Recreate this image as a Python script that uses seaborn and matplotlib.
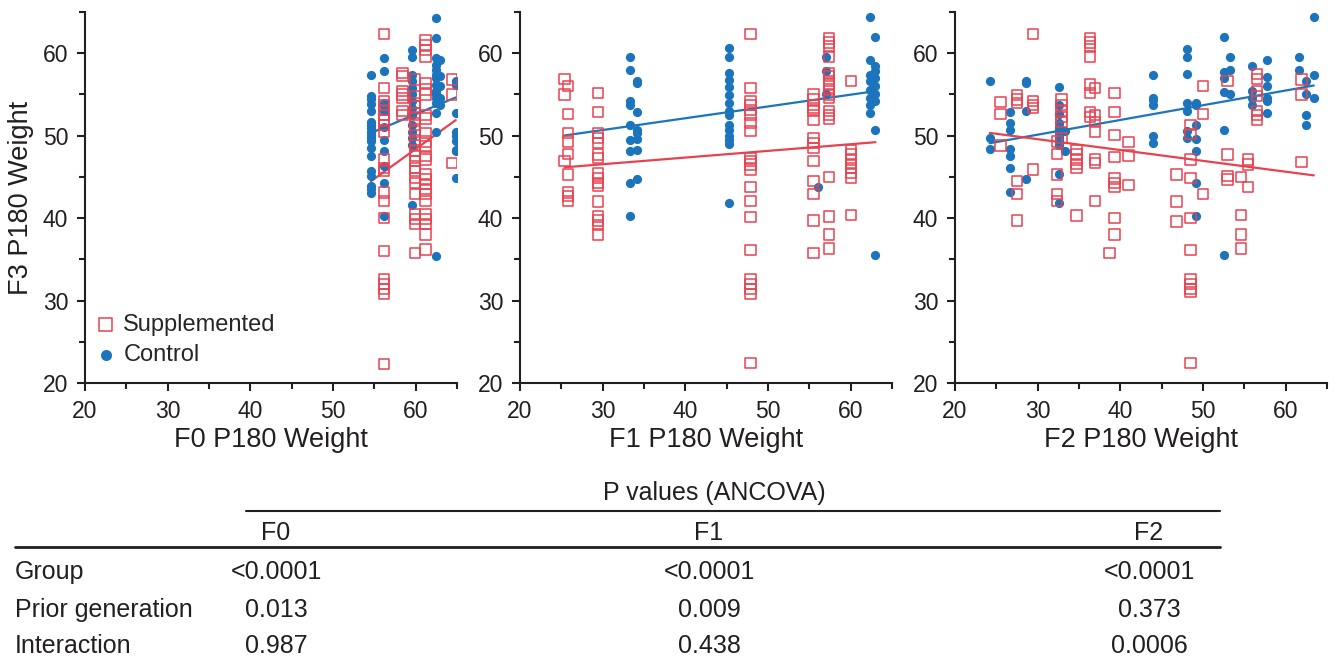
import pandas as pd
import matplotlib
matplotlib.use("Agg")
import matplotlib.pyplot as plt
from matplotlib.lines import Line2D
from matplotlib.ticker import MultipleLocator
import seaborn as sns

# ------------------------------------------------------------------
# Data: F3 P180 weight, grouped by the prior-generation weight column
# {prior-generation P180 weight: [F3 P180 weights]}
# ------------------------------------------------------------------
f0_control = {
    54.6: [57.3, 54.8, 54.4, 53.8, 53.0, 51.7, 51.3, 50.9, 50.5, 50.1, 49.7,
           49.3, 48.5, 47.5, 45.7, 45.1, 43.9, 43.5, 43.1],
    56.2: [59.4, 57.9, 54.0, 53.6, 53.0, 51.1, 49.5, 48.1, 46.3, 44.3, 40.2],
    59.5: [60.4, 59.5, 57.4, 56.6, 55.8, 55.0, 54.2, 53.3, 52.5, 51.3, 50.5,
           49.7, 48.9, 41.65],
    62.4: [64.3, 61.8, 59.4, 58.6, 58.0, 57.4, 57.0, 56.2, 55.4, 55.0, 54.6,
           54.0, 52.75, 50.5, 35.4],
    63.0: [59.2, 57.2, 56.0, 54.6, 53.75],
    64.85: [56.6, 56.2, 52.75, 50.5, 49.9, 49.3, 48.3, 48.1, 44.9],
}
f0_supp = {
    56.2: [62.3, 55.8, 54.2, 53.75, 53.1, 52.5, 51.9, 51.3, 50.5, 47.1, 46.1,
           45.7, 43.1, 42.05, 40.05, 36.0, 32.6, 32.0, 31.4, 30.8, 22.3],
    58.4: [57.6, 57.2, 55.4, 55.0, 54.6, 53.0, 52.5],
    59.9: [56.8, 54.8, 54.0, 53.55, 52.75, 52.1, 51.3, 50.5, 49.5, 48.9, 48.1,
           47.5, 46.9, 46.1, 45.7, 44.9, 44.3, 42.9, 40.45, 39.85, 39.25, 35.8],
    61.2: [61.6, 61.0, 60.4, 59.6, 56.4, 55.6, 55.0, 52.5, 52.1, 50.3, 49.3,
           48.7, 47.5, 47.1, 45.3, 44.7, 44.1, 43.5, 42.9, 42.05, 40.45, 39.85,
           39.25, 38.0, 36.2],
    64.4: [56.8, 55.0, 46.7],
}
f1_control = {
    33.3: [59.5, 58.0, 54.2, 53.75, 51.25, 49.5, 48.2, 44.3, 40.2],
    34.1: [56.65, 56.4, 52.9, 50.7, 50.3, 49.6, 48.3, 44.8],
    45.3: [60.6, 59.6, 57.6, 56.8, 55.9, 54.9, 54.0, 53.0, 52.5, 51.3, 50.7,
           49.9, 49.5, 49.0, 41.85],
    56.1: [43.75],
    57.0: [59.5, 57.9, 55.0],
    62.3: [64.4, 59.2, 57.3, 56.6, 55.5, 54.6, 53.75, 52.75],
    63.0: [62.0, 58.5, 57.8, 57.05, 56.0, 55.05, 54.15, 50.7, 35.5],
}
f1_supp = {
    25.4: [56.9, 55.0, 46.9],
    25.8: [56.0, 52.6, 50.3, 49.3, 47.8, 45.3, 43.1, 42.7, 42.05],
    29.4: [55.2, 52.9, 50.3, 49.7, 49.1, 47.7, 47.3, 45.4, 44.9, 44.3, 43.9,
           42.0, 40.2, 39.7, 39.2, 38.0],
    47.9: [62.3, 55.8, 54.15, 53.75, 53.1, 52.5, 51.5, 50.6, 47.3, 46.9, 46.5,
           45.9, 43.75, 42.05, 40.1, 36.1, 32.6, 32.0, 31.4, 30.8, 22.4],
    55.5: [55.0, 54.4, 53.75, 53.35, 52.95, 51.9, 49.7, 49.1, 48.5, 46.9, 44.5,
           42.9, 39.7, 35.8],
    57.4: [61.8, 61.3, 60.8, 59.6, 57.6, 57.2, 56.6, 56.2, 55.6, 55.0, 54.6,
           53.0, 52.5, 52.1, 45.0, 40.2, 38.0, 36.3],
    60.0: [56.65, 48.3, 47.7, 47.1, 46.6, 46.1, 45.5, 44.9, 40.4],
}
f2_control = {
    24.2: [56.6, 49.7, 48.4],
    26.6: [52.9, 51.5, 50.65, 48.4, 47.5, 46.1, 43.2],
    28.6: [56.6, 56.4, 52.95, 44.8],
    32.6: [55.85, 53.7, 52.6, 51.5, 51.1, 50.7, 50.3, 50.0, 49.7, 49.3, 48.9,
           45.3, 41.8],
    33.3: [50.6, 48.2],
    43.9: [57.4, 54.6, 54.35, 53.75, 50.0, 49.1],
    48.1: [60.5, 59.6, 57.5, 54.0, 52.95, 50.6, 49.7],
    49.1: [54.0, 53.75, 51.25, 49.6, 48.2, 44.3, 40.2],
    52.6: [62.0, 57.7, 57.0, 55.3, 50.7, 35.5],
    53.3: [59.5, 58.0, 55.0],
    55.9: [58.5, 55.45, 54.6, 53.7],
    57.7: [59.2, 57.1, 56.0, 54.6, 54.2, 52.75],
    61.6: [59.5, 58.0],
    62.5: [56.65, 55.0, 52.5, 51.3],
    63.4: [64.4, 57.4, 54.6],
}
f2_supp = {
    25.5: [54.1, 52.6, 48.8],
    27.5: [54.9, 54.4, 54.0, 44.5, 42.9, 39.7],
    29.4: [62.3, 54.2, 53.75, 53.35, 45.9],
    32.3: [49.3, 47.8, 45.3, 42.9, 42.05],
    32.9: [54.4, 53.75, 53.0, 52.3, 51.7, 49.7],
    34.7: [48.3, 47.7, 47.1, 46.6, 46.1, 40.3],
    36.3: [61.8, 61.3, 60.8, 59.6, 56.2, 55.2, 52.9, 52.3],
    36.9: [55.8, 52.5, 51.7, 50.5, 47.1, 46.7, 42.05],
    38.7: [35.8],
    39.3: [55.2, 52.9, 50.1, 47.4, 44.8, 44.3, 43.75, 40.0, 38.0],
    41.0: [49.2, 47.6, 44.0],
    46.8: [45.3, 42.0, 39.6],
    48.5: [51.3, 50.2, 47.1, 44.9, 40.0, 36.1, 32.6, 32.0, 31.4, 31.0, 22.4],
    50.0: [56.0, 52.6, 42.95],
    52.95: [56.65, 47.7, 45.1, 44.7],
    54.6: [45.0, 40.4, 38.0, 36.3],
    55.45: [47.1, 46.5, 43.75],
    56.5: [57.5, 56.9, 55.45, 54.8, 52.95, 52.5, 51.9],
    61.9: [56.8, 55.0, 46.8],
}

generations = ["F0", "F1", "F2"]
row_labels = ["Group", "Prior generation", "Interaction"]
p_f0 = ["<0.0001", "0.013", "0.987"]
p_f1 = ["<0.0001", "0.009", "0.438"]
p_f2 = ["<0.0001", "0.373", "0.0006"]

records = []
for gen, group, cols in [("F0", "Control", f0_control), ("F0", "Supplemented", f0_supp),
                         ("F1", "Control", f1_control), ("F1", "Supplemented", f1_supp),
                         ("F2", "Control", f2_control), ("F2", "Supplemented", f2_supp)]:
    for x, ys in cols.items():
        for y in ys:
            records.append((gen, group, x, y))
df = pd.DataFrame(records, columns=["gen", "group", "prior", "f3"])

# ------------------------------------------------------------------
# Figure
# ------------------------------------------------------------------
sns.set_theme(style="ticks")
plt.rcParams["font.family"] = ["Liberation Sans", "DejaVu Sans"]
INK = "#231f20"
RED = "#E8424F"
BLUE = "#1C75BC"
W, H = 1338, 662

fig = plt.figure(figsize=(W / 100, H / 100), dpi=100)
lefts = [85, 520, 955]
for i, gen in enumerate(generations):
    ax = fig.add_axes([lefts[i] / W, 1 - 383 / H, 372 / W, 371 / H])
    sub = df[df["gen"] == gen]
    # regression lines span the whole range of prior-generation weights
    ax.set_xlim(sub["prior"].min(), sub["prior"].max())
    sns.regplot(data=sub[sub["group"] == "Control"], x="prior", y="f3", ax=ax,
                ci=None, truncate=False, color=BLUE, marker="o", label="Control",
                scatter_kws=dict(s=44, linewidths=0, alpha=1, zorder=3),
                line_kws=dict(lw=1.6, zorder=2))
    sns.regplot(data=sub[sub["group"] == "Supplemented"], x="prior", y="f3", ax=ax,
                ci=None, truncate=False, color=RED, marker="s", label="Supplemented",
                scatter_kws=dict(s=55, facecolors="none", edgecolors=RED,
                                 linewidths=1.1, alpha=1, zorder=3),
                line_kws=dict(lw=1.6, zorder=2))
    ax.set_xlim(20, 65)
    ax.set_ylim(20, 65)
    for axis in (ax.xaxis, ax.yaxis):
        axis.set_major_locator(MultipleLocator(10))
        axis.set_minor_locator(MultipleLocator(5))
    sns.despine(ax=ax)
    for side in ("left", "bottom"):
        ax.spines[side].set_linewidth(1.5)
        ax.spines[side].set_color(INK)
    ax.tick_params(which="major", length=6, width=1.5, color=INK, labelsize=16.5,
                   labelcolor=INK, pad=6)
    ax.tick_params(which="minor", length=4.5, width=1.5, color=INK)
    ax.set_xlabel(f"{gen} P180 Weight", fontsize=19.5, color=INK, labelpad=3)
    ax.set_ylabel("F3 P180 Weight" if i == 0 else "", fontsize=19.5, color=INK, labelpad=6)
    if i == 0:
        handles, labels = ax.get_legend_handles_labels()
        order = [labels.index("Supplemented"), labels.index("Control")]
        ax.legend([handles[k] for k in order], [labels[k] for k in order],
                  loc="lower left", bbox_to_anchor=(0.03, 0.046), frameon=False,
                  fontsize=17, handlelength=0.8, handletextpad=0.35,
                  labelspacing=0.35, borderpad=0, borderaxespad=0,
                  scatterpoints=1, markerscale=1.2)

# ------------------------------------------------------------------
# P-value table
# ------------------------------------------------------------------
def fy(py):
    return 1 - py / H

fs = 18
fig.text(714 / W, fy(500), "P values (ANCOVA)", ha="center", va="baseline",
         fontsize=fs, color=INK)
fig.add_artist(Line2D([246 / W, 1220 / W], [fy(511), fy(511)],
                      transform=fig.transFigure, color=INK, lw=1.5))
col_x = [276, 709, 1149]
for cx, gen in zip(col_x, generations):
    fig.text(cx / W, fy(540), gen, ha="center", va="baseline", fontsize=fs, color=INK)
fig.add_artist(Line2D([15 / W, 1220 / W], [fy(547), fy(547)],
                      transform=fig.transFigure, color=INK, lw=2))
row_y = [579, 617, 653]
for r, (label, ry) in enumerate(zip(row_labels, row_y)):
    fig.text(15 / W, fy(ry), label, ha="left", va="baseline", fontsize=fs, color=INK)
    for cx, col in zip(col_x, [p_f0, p_f1, p_f2]):
        fig.text(cx / W, fy(ry), col[r], ha="center", va="baseline", fontsize=fs, color=INK)

fig.savefig("out.png", dpi=100)
